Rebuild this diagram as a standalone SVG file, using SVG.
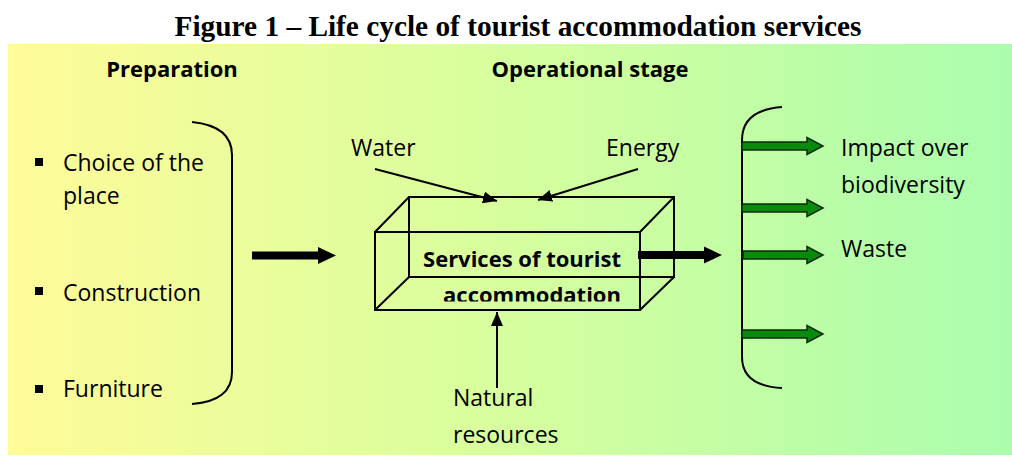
<svg xmlns="http://www.w3.org/2000/svg" width="1012" height="457" viewBox="0 0 1012 457">
<defs>
<linearGradient id="bg" x1="0" y1="0" x2="1" y2="0">
<stop offset="0" stop-color="#FFFB99"/>
<stop offset="0.5" stop-color="#D6FE9E"/>
<stop offset="1" stop-color="#ABFDAD"/>
</linearGradient>
<marker id="ah" viewBox="0 0 14 12" refX="14" refY="6" markerWidth="14" markerHeight="12" markerUnits="userSpaceOnUse" orient="auto">
<path d="M0,0 L14,6 L0,12 Z" fill="#000"/>
</marker>
<clipPath id="boxclip"><rect x="375" y="232" width="265" height="69.5"/></clipPath>
</defs>
<style>
.t{font-family:"Open Sans","Liberation Sans",sans-serif;font-size:23px;fill:#000}
.b{font-family:"Open Sans","Liberation Sans",sans-serif;font-size:22px;font-weight:bold;fill:#000}
.ln{stroke:#000;stroke-width:2;fill:none}
.thin{stroke:#000;stroke-width:2;fill:none;marker-end:url(#ah)}
.garrow{fill:#0A8A0A;stroke:#0A2A0A;stroke-width:1.5}
.barrow{fill:#000}
</style>
<rect x="8" y="44" width="1004" height="411" fill="url(#bg)"/>
<text x="518" y="36" text-anchor="middle" font-family="Liberation Serif, serif" font-weight="bold" font-size="30" textLength="687" lengthAdjust="spacingAndGlyphs">Figure 1 – Life cycle of tourist accommodation services</text>

<g id="preparation">
<text class="b" x="172" y="77" text-anchor="middle">Preparation</text>
<rect x="35" y="158" width="8" height="8"/>
<text class="t" x="63" y="171">Choice of the</text>
<text class="t" x="63" y="204">place</text>
<rect x="35" y="287" width="8" height="8"/>
<text class="t" x="63" y="301">Construction</text>
<rect x="35" y="385" width="8" height="8"/>
<text class="t" x="63" y="397">Furniture</text>
<path class="ln" d="M192,122 Q232,126 232,155 L232,372 Q232,401 192,404"/>
</g>

<g id="operational">
<text class="b" x="590" y="77" text-anchor="middle">Operational stage</text>
</g>

<g id="water"><text class="t" x="351" y="156">Water</text></g>
<g id="energy"><text class="t" x="606" y="156">Energy</text></g>
<g id="natural">
<text class="t" x="453" y="406">Natural</text>
<text class="t" x="453" y="443">resources</text>
</g>

<g id="box">
<rect class="ln" x="409" y="197" width="265" height="80"/>
<rect class="ln" x="375" y="232" width="265" height="78"/>
<path class="ln" d="M375,232 L409,197 M640,232 L674,197 M375,310 L409,277 M640,310 L674,277"/>
<g clip-path="url(#boxclip)">
<text class="b" x="522" y="267" text-anchor="middle">Services of tourist</text>
<text class="b" x="532" y="303" text-anchor="middle">accommodation</text>
</g>
</g>

<g id="outputs">
<path class="ln" d="M782,107 Q742,110 742,140 L742,357 Q742,386 782,388"/>
<text class="t" x="841" y="156">Impact over</text>
<text class="t" x="841" y="193">biodiversity</text>
<text class="t" x="841" y="257">Waste</text>
</g>

<g id="connectors">
<path class="thin" d="M375,169 L497,201"/>
<path class="thin" d="M638,169 L538,200"/>
<path class="thin" d="M497,388 L497,312"/>
<polygon class="barrow" points="252,251.5 318,251.5 318,247 336,255.5 318,264 318,259.5 252,259.5"/>
<polygon class="barrow" points="638,251 704,251 704,246.5 722,255 704,263.5 704,259 638,259"/>
<polygon class="garrow" points="742,142 807,142 807,137.5 823,146 807,154.5 807,150 742,150"/>
<polygon class="garrow" points="742,204 807,204 807,199.5 823,208 807,216.5 807,212 742,212"/>
<polygon class="garrow" points="743,251 807,251 807,246.5 823,255 807,263.5 807,259 743,259"/>
<polygon class="garrow" points="742,330 807,330 807,325.5 823,334 807,342.5 807,338 742,338"/>
</g>
</svg>
